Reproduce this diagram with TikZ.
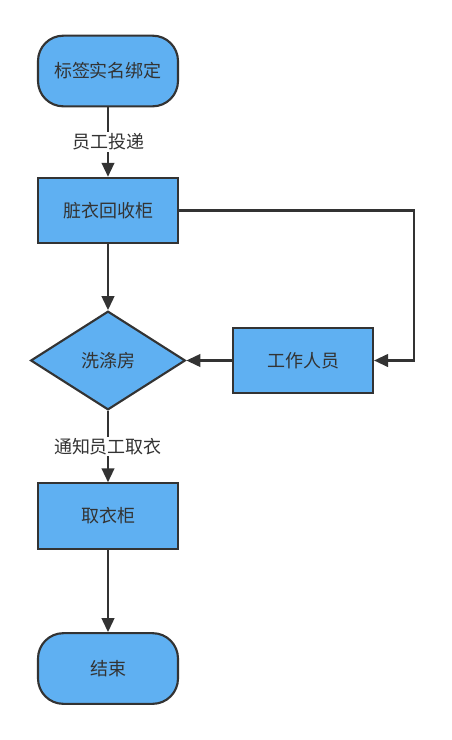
\documentclass[tikz,border=0pt]{standalone}
\usepackage{fontspec}
\setmainfont{Noto Sans CJK SC}
\usepackage{xcolor}
\usetikzlibrary{arrows.meta,shapes.geometric}
\definecolor{boxblue}{HTML}{5FB0F2}
\definecolor{inkgray}{HTML}{333333}
\tikzset{base/.style={draw=inkgray,line width=1.6pt,fill=boxblue,text=inkgray,inner sep=0pt,font=\fontsize{13.5}{15}\selectfont},
  term/.style={base,rounded corners=19pt,minimum width=105pt,minimum height=53pt},
  boxnode/.style={base,minimum width=105pt,minimum height=49pt},
  decide/.style={base,diamond,minimum width=116pt,minimum height=74pt},
  arr/.style={draw=inkgray,line width=1.6pt,-{Triangle[length=10.5pt,width=9.5pt]}},
  lbl/.style={fill=white,text=inkgray,inner sep=1pt,font=\fontsize{13.5}{15}\selectfont}}
\begin{document}
\begin{tikzpicture}[x=0.75pt,y=-0.75pt]
\useasboundingbox (0,0) rectangle (452,740);
\node[term] (start) at (108,71) {标签实名绑定};
\node[boxnode] (dirty) at (108,210.5) {脏衣回收柜};
\node[decide] (laundry) at (108,360.5) {洗涤房};
\node[boxnode] (staff) at (303,360.5) {工作人员};
\node[boxnode] (pickup) at (108,516) {取衣柜};
\node[term] (finish) at (108,668.5) {结束};
\coordinate (bend) at (414,360.5);
\draw[arr] (start) -- node[lbl] {员工投递} (dirty);
\draw[arr] (dirty) -- (laundry);
\draw[arr] (dirty.east) -| (bend) -- (staff.east);
\draw[arr] (staff) -- (laundry.east);
\draw[arr] (laundry) -- node[lbl,pos=0.5] {通知员工取衣} (pickup);
\draw[arr] (pickup) -- (finish);
\end{tikzpicture}
\end{document}
